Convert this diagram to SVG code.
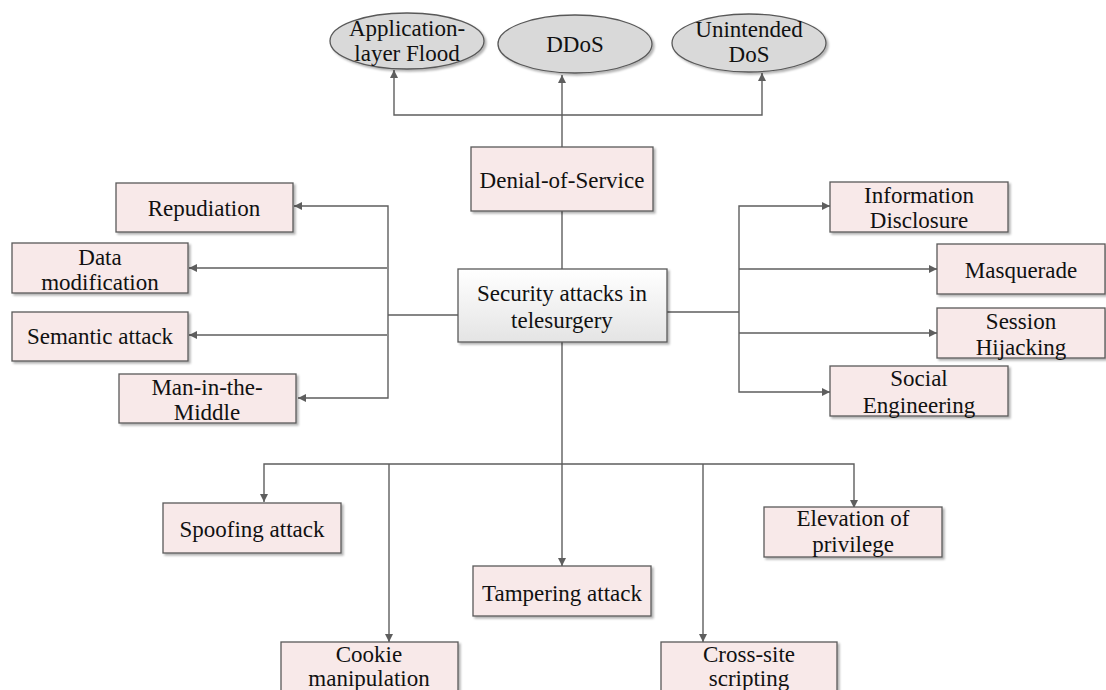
<svg xmlns="http://www.w3.org/2000/svg" width="1106" height="690" viewBox="0 0 1106 690">
<defs>
<style>
.box{fill:#F8E9E9;stroke:#595959;stroke-width:1.3;filter:url(#sh)}
.ell{fill:#D9D9D9;stroke:#595959;stroke-width:1.3;filter:url(#sh)}
.ctr{fill:url(#g);stroke:#595959;stroke-width:1.3;filter:url(#sh)}
.t{font-family:"Liberation Serif","Times New Roman",serif;font-size:23px;fill:#111;text-anchor:middle}
.ln{fill:none;stroke:#5E5E5E;stroke-width:1.4}
.ar{fill:none;stroke:#5E5E5E;stroke-width:1.4;marker-end:url(#ah)}
</style>
<linearGradient id="g" x1="0" y1="0" x2="0" y2="1">
<stop offset="0" stop-color="#FFFFFF"/>
<stop offset="1" stop-color="#E4E4E4"/>
</linearGradient>
<filter id="sh" x="-5%" y="-5%" width="115%" height="125%">
<feDropShadow dx="2" dy="2" stdDeviation="0.8" flood-color="#000" flood-opacity="0.3"/>
</filter>
<marker id="ah" viewBox="0 0 10 10" refX="10" refY="5" markerWidth="8" markerHeight="8" markerUnits="userSpaceOnUse" orient="auto">
<path d="M0,0 L10,5 L0,10 Z" fill="#5E5E5E"/>
</marker>
</defs>
<rect width="1106" height="690" fill="#FFFFFF"/>

<g id="connectors">
<path class="ln" d="M562,211 V269"/>
<path class="ln" d="M562,147 V115"/>
<path class="ar" d="M562,115 V75"/>
<path class="ar" d="M562,115 H394 V70"/>
<path class="ar" d="M562,115 H762 V73"/>
<path class="ln" d="M458,315 H388"/>
<path class="ar" d="M388,315 V206 H294"/>
<path class="ar" d="M388,315 V398 H298"/>
<path class="ar" d="M387,268 H189"/>
<path class="ar" d="M387,335 H189"/>
<path class="ln" d="M667,312 H739"/>
<path class="ar" d="M739,312 V206 H830"/>
<path class="ar" d="M739,312 V392 H830"/>
<path class="ar" d="M739,269 H937"/>
<path class="ar" d="M739,333 H937"/>
<path class="ln" d="M562,342 V464"/>
<path class="ar" d="M562,464 V566"/>
<path class="ar" d="M562,464 H264 V502"/>
<path class="ar" d="M562,464 H854 V508"/>
<path class="ar" d="M389,464 V642"/>
<path class="ar" d="M703,464 V642"/>
</g>

<g id="n-app"><ellipse class="ell" cx="407" cy="41" rx="77" ry="28"/><text class="t" x="407" y="36">Application-</text><text class="t" x="407" y="61">layer Flood</text></g>
<g id="n-ddos"><ellipse class="ell" cx="575" cy="44" rx="77" ry="29"/><text class="t" x="575" y="52">DDoS</text></g>
<g id="n-unint"><ellipse class="ell" cx="749" cy="43" rx="77" ry="29"/><text class="t" x="749" y="37">Unintended</text><text class="t" x="749" y="62">DoS</text></g>

<g id="n-dos"><rect class="box" x="471" y="147" width="182" height="64"/><text class="t" x="562" y="188">Denial-of-Service</text></g>
<g id="n-center"><rect class="ctr" x="458" y="269" width="209" height="73"/><text class="t" x="562" y="301">Security attacks in</text><text class="t" x="562" y="328">telesurgery</text></g>

<g id="n-rep"><rect class="box" x="116" y="183" width="177" height="49"/><text class="t" x="204" y="216">Repudiation</text></g>
<g id="n-data"><rect class="box" x="12" y="243" width="176" height="50"/><text class="t" x="100" y="265">Data</text><text class="t" x="100" y="290">modification</text></g>
<g id="n-sem"><rect class="box" x="12" y="312" width="176" height="49"/><text class="t" x="100" y="344">Semantic attack</text></g>
<g id="n-mitm"><rect class="box" x="119" y="374" width="177" height="49"/><text class="t" x="207" y="395">Man-in-the-</text><text class="t" x="207" y="420">Middle</text></g>

<g id="n-info"><rect class="box" x="830" y="182" width="178" height="50"/><text class="t" x="919" y="203">Information</text><text class="t" x="919" y="228">Disclosure</text></g>
<g id="n-masq"><rect class="box" x="937" y="244" width="168" height="50"/><text class="t" x="1021" y="278">Masquerade</text></g>
<g id="n-sess"><rect class="box" x="937" y="308" width="168" height="50"/><text class="t" x="1021" y="329">Session</text><text class="t" x="1021" y="355">Hijacking</text></g>
<g id="n-social"><rect class="box" x="830" y="366" width="178" height="50"/><text class="t" x="919" y="386">Social</text><text class="t" x="919" y="413">Engineering</text></g>

<g id="n-spoof"><rect class="box" x="163" y="503" width="178" height="50"/><text class="t" x="252" y="537">Spoofing attack</text></g>
<g id="n-tamper"><rect class="box" x="473" y="566" width="178" height="50"/><text class="t" x="562" y="601">Tampering attack</text></g>
<g id="n-elev"><rect class="box" x="764" y="507" width="178" height="50"/><text class="t" x="853" y="526">Elevation of</text><text class="t" x="853" y="552">privilege</text></g>
<g id="n-cookie"><rect class="box" x="281" y="642" width="177" height="60"/><text class="t" x="369" y="662">Cookie</text><text class="t" x="369" y="686">manipulation</text></g>
<g id="n-xss"><rect class="box" x="661" y="642" width="176" height="60"/><text class="t" x="749" y="662">Cross-site</text><text class="t" x="749" y="686">scripting</text></g>
</svg>
